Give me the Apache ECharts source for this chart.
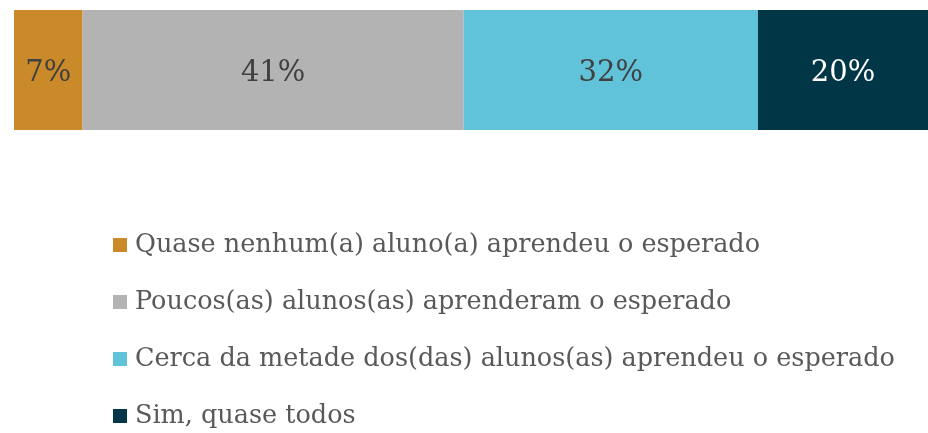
<!DOCTYPE html>
<html>
<head>
<meta charset="utf-8">
<script src="https://cdn.jsdelivr.net/npm/echarts@6/dist/echarts.min.js"></script>
<style>
  html, body { margin: 0; padding: 0; background: #fff; }
  #chart { width: 928px; height: 433px; }
</style>
</head>
<body>
<div id="chart"></div>
<script>
// respostas (largura) e rótulos mostrados
var categorias = ['Quase nenhum(a) aluno(a) aprendeu o esperado',
  'Poucos(as) alunos(as) aprenderam o esperado',
  'Cerca da metade dos(das) alunos(as) aprendeu o esperado',
  'Sim, quase todos'];
var valores = [7.5, 41.7, 32.2, 18.6];
var rotulos = ['7%', '41%', '32%', '20%'];
var cores = ['#CB8A2A', '#B3B3B3', '#60C3D9', '#003646'];
var corRotulo = ['#404040', '#404040', '#404040', '#ffffff'];

var fonte = 'DejaVu Serif';

var series = [];
for (var i = 0; i < categorias.length; i++) {
  series.push({
    name: categorias[i],
    type: 'bar',
    stack: 'total',
    barWidth: '100%',
    data: [valores[i]],
    itemStyle: { color: cores[i] },
    label: {
      show: true,
      position: 'inside',
      offset: [0, 3],
      formatter: (function (t) { return function () { return t; }; })(rotulos[i]),
      color: corRotulo[i],
      fontFamily: fonte,
      fontSize: 29
    }
  });
}

var chart = echarts.init(document.getElementById('chart'));
chart.setOption({
  animation: false,
  grid: { left: 14, right: 0, top: 10, height: 120 },
  xAxis: { type: 'value', min: 0, max: 100, show: false },
  yAxis: { type: 'category', data: [''], show: false },
  legend: {
    orient: 'vertical',
    left: 113,
    top: 232,
    padding: 0,
    itemWidth: 14,
    itemHeight: 14,
    itemGap: 31,
    icon: 'rect',
    selectedMode: false,
    textStyle: {
      fontFamily: fonte,
      fontSize: 25.5,
      color: '#595959',
      padding: [0, 0, 0, 3]
    },
    data: categorias
  },
  series: series
});
</script>
</body>
</html>
